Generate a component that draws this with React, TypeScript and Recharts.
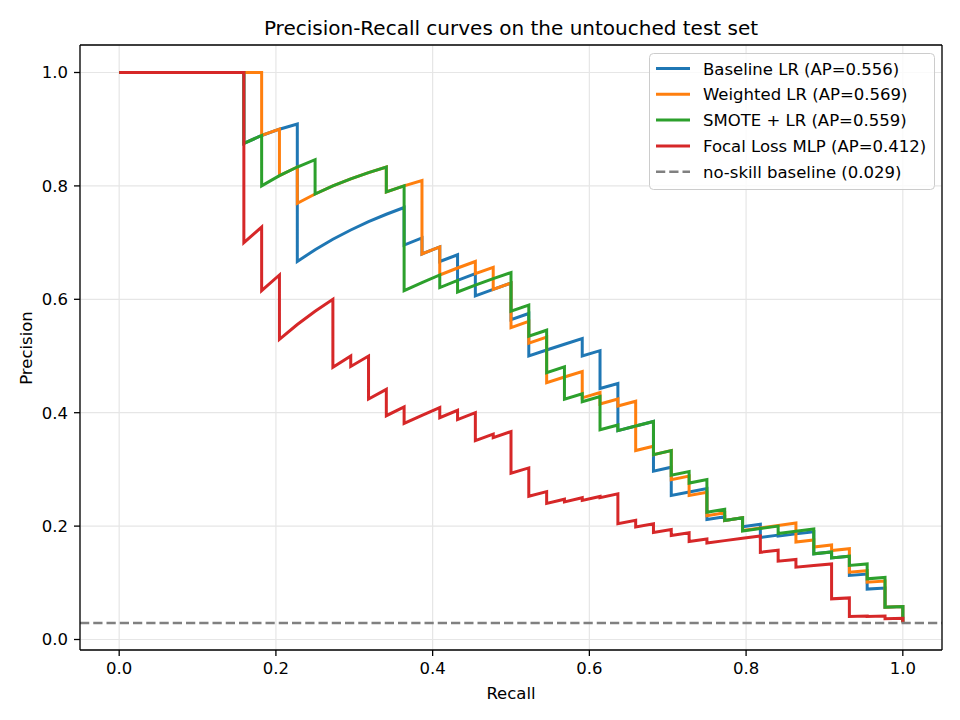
import React from 'react';
import { LineChart, Line, XAxis, YAxis, CartesianGrid, ReferenceLine } from 'recharts';

// [recall, precision] vertices of each PR curve (44 positives in the test set)
const baselineLR: [number, number][] = [
  [0, 1], [0.1591, 1], [0.1591, 0.875], [0.1818, 0.8889], [0.2045, 0.9], [0.2273, 0.9091],
  [0.2273, 0.6667], [0.25, 0.6875], [0.2727, 0.7059], [0.2955, 0.7222], [0.3182, 0.7368],
  [0.3409, 0.75], [0.3636, 0.7619], [0.3636, 0.6957], [0.3864, 0.7083], [0.3864, 0.68],
  [0.4091, 0.6923], [0.4091, 0.6667], [0.4318, 0.6786], [0.4318, 0.6333], [0.4545, 0.6452],
  [0.4545, 0.6061], [0.4773, 0.6176], [0.5, 0.6286], [0.5, 0.5641], [0.5227, 0.575],
  [0.5227, 0.5], [0.5455, 0.5106], [0.5682, 0.5208], [0.5909, 0.5306], [0.5909, 0.5],
  [0.6136, 0.5094], [0.6136, 0.4426], [0.6364, 0.4516], [0.6364, 0.3684], [0.6591, 0.3766],
  [0.6818, 0.3846], [0.6818, 0.297], [0.7045, 0.3039], [0.7045, 0.2541], [0.7273, 0.2602],
  [0.75, 0.2661], [0.75, 0.2115], [0.7727, 0.2166], [0.7727, 0.2099], [0.7955, 0.2147],
  [0.7955, 0.1989], [0.8182, 0.2034], [0.8182, 0.18], [0.8409, 0.1841], [0.8409, 0.1823],
  [0.8636, 0.1863], [0.8864, 0.1902], [0.8864, 0.1512], [0.9091, 0.1544], [0.9091, 0.1439],
  [0.9318, 0.147], [0.9318, 0.113], [0.9545, 0.1154], [0.9545, 0.089], [0.9773, 0.0909],
  [0.9773, 0.057], [1, 0.0583], [1, 0.0305],
];

const weightedLR: [number, number][] = [
  [0, 1], [0.1818, 1], [0.1818, 0.8889], [0.2045, 0.9], [0.2045, 0.8182], [0.2273, 0.8333],
  [0.2273, 0.7692], [0.25, 0.7857], [0.2727, 0.8], [0.2955, 0.8125], [0.3182, 0.8235],
  [0.3409, 0.8333], [0.3409, 0.7895], [0.3636, 0.8], [0.3864, 0.8095], [0.3864, 0.68],
  [0.4091, 0.6923], [0.4091, 0.6429], [0.4318, 0.6552], [0.4545, 0.6667], [0.4545, 0.6452],
  [0.4773, 0.6563], [0.4773, 0.6176], [0.5, 0.6286], [0.5, 0.55], [0.5227, 0.561],
  [0.5227, 0.5227], [0.5455, 0.5333], [0.5455, 0.4528], [0.5682, 0.463], [0.5909, 0.4727],
  [0.5909, 0.4262], [0.6136, 0.4355], [0.6136, 0.4154], [0.6364, 0.4242], [0.6364, 0.4118],
  [0.6591, 0.4203], [0.6591, 0.3333], [0.6818, 0.3409], [0.6818, 0.3261], [0.7045, 0.3333],
  [0.7045, 0.2818], [0.7273, 0.2883], [0.7273, 0.254], [0.75, 0.2598], [0.75, 0.2185],
  [0.7727, 0.2237], [0.7727, 0.2099], [0.7955, 0.2147], [0.7955, 0.1923], [0.8182, 0.1967],
  [0.8409, 0.2011], [0.8636, 0.2054], [0.8636, 0.1719], [0.8864, 0.1757], [0.8864, 0.1632],
  [0.9091, 0.1667], [0.9091, 0.1569], [0.9318, 0.1602], [0.9318, 0.1188], [0.9545, 0.1214],
  [0.9545, 0.101], [0.9773, 0.1031], [0.9773, 0.057], [1, 0.0583], [1, 0.0305],
];

const smoteLR: [number, number][] = [
  [0, 1], [0.1591, 1], [0.1591, 0.875], [0.1818, 0.8889], [0.1818, 0.8], [0.2045, 0.8182],
  [0.2273, 0.8333], [0.25, 0.8462], [0.25, 0.7857], [0.2727, 0.8], [0.2955, 0.8125],
  [0.3182, 0.8235], [0.3409, 0.8333], [0.3409, 0.7895], [0.3636, 0.8], [0.3636, 0.6154],
  [0.3864, 0.6296], [0.4091, 0.6429], [0.4091, 0.6207], [0.4318, 0.6333], [0.4318, 0.6129],
  [0.4545, 0.625], [0.4773, 0.6364], [0.5, 0.6471], [0.5, 0.5789], [0.5227, 0.5897],
  [0.5227, 0.5349], [0.5455, 0.5455], [0.5455, 0.4706], [0.5682, 0.4808], [0.5682, 0.4237],
  [0.5909, 0.4333], [0.5909, 0.4194], [0.6136, 0.4286], [0.6136, 0.3699], [0.6364, 0.3784],
  [0.6364, 0.3684], [0.6591, 0.3766], [0.6818, 0.3846], [0.6818, 0.3261], [0.7045, 0.3333],
  [0.7045, 0.2897], [0.7273, 0.2963], [0.7273, 0.2759], [0.75, 0.2821], [0.75, 0.2245],
  [0.7727, 0.2297], [0.7727, 0.2099], [0.7955, 0.2147], [0.7955, 0.1913], [0.8182, 0.1957],
  [0.8409, 0.2], [0.8409, 0.1869], [0.8636, 0.191], [0.8864, 0.195], [0.8864, 0.1512],
  [0.9091, 0.1544], [0.9091, 0.1439], [0.9318, 0.147], [0.9318, 0.1306], [0.9545, 0.1333],
  [0.9545, 0.1071], [0.9773, 0.1094], [0.9773, 0.057], [1, 0.0583], [1, 0.0305],
];

const focalMLP: [number, number][] = [
  [0, 1], [0.1591, 1], [0.1591, 0.7], [0.1818, 0.7273], [0.1818, 0.6154], [0.2045, 0.6429],
  [0.2045, 0.5294], [0.2273, 0.5556], [0.25, 0.5789], [0.2727, 0.6], [0.2727, 0.48],
  [0.2955, 0.5], [0.2955, 0.4815], [0.3182, 0.5], [0.3182, 0.4242], [0.3409, 0.4412],
  [0.3409, 0.3947], [0.3636, 0.4103], [0.3636, 0.381], [0.3864, 0.3953], [0.4091, 0.4091],
  [0.4091, 0.3913], [0.4318, 0.4043], [0.4318, 0.3878], [0.4545, 0.4], [0.4545, 0.3509],
  [0.4773, 0.3621], [0.4773, 0.3559], [0.5, 0.3667], [0.5, 0.2933], [0.5227, 0.3026],
  [0.5227, 0.2527], [0.5455, 0.2609], [0.5455, 0.24], [0.5682, 0.2475], [0.5682, 0.2427],
  [0.5909, 0.25], [0.5909, 0.2453], [0.6136, 0.2523], [0.6136, 0.25], [0.6364, 0.2569],
  [0.6364, 0.2044], [0.6591, 0.2101], [0.6591, 0.1986], [0.6818, 0.2041], [0.6818, 0.1887],
  [0.7045, 0.1938], [0.7045, 0.1834], [0.7273, 0.1882], [0.7273, 0.173], [0.75, 0.1774],
  [0.75, 0.1701], [0.7727, 0.1744], [0.7955, 0.1786], [0.8182, 0.1827], [0.8182, 0.1538],
  [0.8409, 0.1574], [0.8409, 0.1381], [0.8636, 0.1413], [0.8636, 0.1275], [0.8864, 0.1304],
  [0.9091, 0.1333], [0.9091, 0.0717], [0.9318, 0.0733], [0.9318, 0.0406], [0.9545, 0.0415],
  [0.9545, 0.0405], [0.9773, 0.0414], [0.9773, 0.0365], [1, 0.0374], [1, 0.0305],
];

const seriesNames = ['Baseline LR', 'Weighted LR', 'SMOTE + LR', 'Focal Loss MLP'];
const apScores = [0.556, 0.569, 0.559, 0.412];
const seriesColors = ['#1f77b4', '#ff7f0e', '#2ca02c', '#d62728'];
const noSkill = 0.029;
const axisTicks = [0, 0.2, 0.4, 0.6, 0.8, 1.0];

const curves = [baselineLR, weightedLR, smoteLR, focalMLP].map((pts) =>
  pts.map(([r, p]) => ({ r, p }))
);

const legendRows = [
  ...seriesNames.map((n, i) => ({
    label: `${n} (AP=${apScores[i].toFixed(3)})`,
    color: seriesColors[i],
    dash: undefined as string | undefined,
  })),
  { label: `no-skill baseline (${noSkill.toFixed(3)})`, color: '#808080', dash: '9.25 4' },
];

const FONT = 'DejaVu Sans, sans-serif';
const fmt = (v: number) => v.toFixed(1);

export default function App() {
  return (
    <div style={{ position: 'absolute', left: 0, top: 0, width: 960, height: 720, background: '#fff', fontFamily: FONT }}>
      <LineChart width={960} height={720} margin={{ top: 45, right: 18, bottom: 30, left: 20 }}>
        <CartesianGrid stroke="#e6e6e6" strokeWidth={1.2} />
        <XAxis
          type="number"
          dataKey="r"
          domain={[-0.05, 1.05]}
          allowDataOverflow
          ticks={axisTicks}
          tickFormatter={fmt}
          height={40}
          stroke="#000"
          axisLine={{ stroke: '#000', strokeWidth: 1.3 }}
          tickLine={{ stroke: '#000', strokeWidth: 1.3 }}
          tickSize={6}
          tickMargin={6}
          tick={{ fill: '#000', fontSize: 16.5 }}
        />
        <YAxis
          type="number"
          dataKey="p"
          domain={[-0.0185, 1.0485]}
          allowDataOverflow
          ticks={axisTicks}
          tickFormatter={fmt}
          width={60}
          axisLine={{ stroke: '#000', strokeWidth: 1.3 }}
          tickLine={{ stroke: '#000', strokeWidth: 1.3 }}
          tickSize={6}
          tickMargin={6}
          tick={{ fill: '#000', fontSize: 16.5 }}
        />
        {curves.map((data, i) => (
          <Line
            key={seriesNames[i]}
            data={data}
            dataKey="p"
            type="linear"
            stroke={seriesColors[i]}
            strokeWidth={3}
            dot={false}
            activeDot={false}
            isAnimationActive={false}
          />
        ))}
        <ReferenceLine y={noSkill} stroke="#808080" strokeWidth={2.5} strokeDasharray="9.25 4" ifOverflow="visible" />
        {/* top and right frame */}
        <ReferenceLine x={1.05} stroke="#000" strokeWidth={1.3} ifOverflow="visible" />
        <ReferenceLine y={1.0485} stroke="#000" strokeWidth={1.3} ifOverflow="visible" />
      </LineChart>

      <svg width={960} height={720} style={{ position: 'absolute', left: 0, top: 0, pointerEvents: 'none' }} fontFamily={FONT}>
        <text x={511} y={35} textAnchor="middle" fontSize={20} fill="#000">
          Precision-Recall curves on the untouched test set
        </text>
        <text x={511} y={699} textAnchor="middle" fontSize={16.5} fill="#000">
          Recall
        </text>
        <text transform="translate(32,348) rotate(-90)" textAnchor="middle" fontSize={16.5} fill="#000">
          Precision
        </text>

        <rect x={649.5} y={53.5} width={285} height={136} rx={4} fill="#fff" fillOpacity={0.8} stroke="#cccccc" />
        {legendRows.map((row, i) => (
          <g key={row.label}>
            <line
              x1={656}
              x2={690}
              y1={68.5 + i * 25.8}
              y2={68.5 + i * 25.8}
              stroke={row.color}
              strokeWidth={row.dash ? 2.5 : 3}
              strokeDasharray={row.dash}
            />
            <text x={703} y={74.5 + i * 25.8} fontSize={16.5} fill="#000">
              {row.label}
            </text>
          </g>
        ))}
      </svg>
    </div>
  );
}
